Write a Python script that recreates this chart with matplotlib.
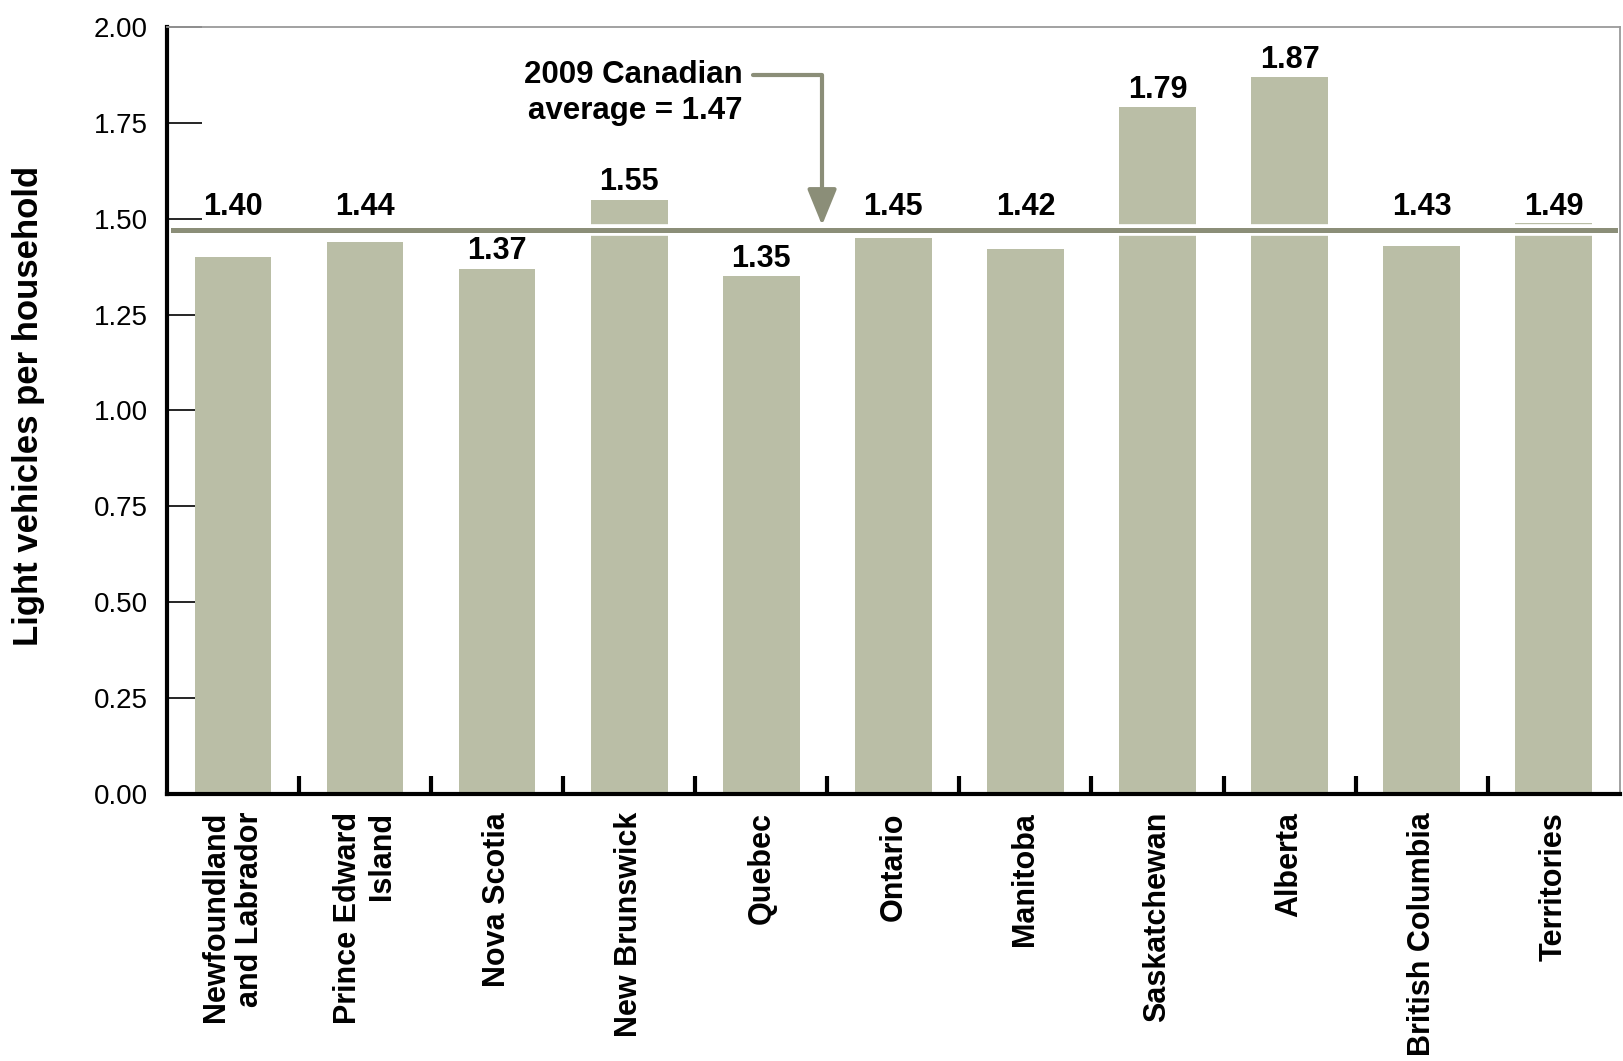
import numpy as np
import matplotlib.pyplot as plt

provinces = ["Newfoundland\nand Labrador", "Prince Edward\nIsland", "Nova Scotia",
             "New Brunswick", "Quebec", "Ontario", "Manitoba", "Saskatchewan",
             "Alberta", "British Columbia", "Territories"]
vehicles = [1.40, 1.44, 1.37, 1.55, 1.35, 1.45, 1.42, 1.79, 1.87, 1.43, 1.49]
canada_avg = 1.47
yticks = [0.00, 0.25, 0.50, 0.75, 1.00, 1.25, 1.50, 1.75, 2.00]

bar_color = "#babea6"
line_color = "#8b8e78"

plt.rcParams['font.family'] = ['Liberation Sans', 'DejaVu Sans']

fig = plt.figure(figsize=(16.23, 10.61), dpi=100)
ax = fig.add_axes([0.1029, 0.2517, 0.8951, 0.7229])

x = np.arange(len(vehicles))
ax.bar(x, vehicles, width=0.58, color=bar_color, zorder=1)
ax.set_axisbelow(True)

# average line with a white halo so it cuts through the bars
ax.axhline(canada_avg, xmin=0.004, xmax=0.997, color="white", lw=8.4, zorder=3)
ax.axhline(canada_avg, xmin=0.004, xmax=0.997, color=line_color, lw=3.6, zorder=4)

# value labels; those close to the average line sit above it
for xi, v in zip(x, vehicles):
    if canada_avg - 0.09 < v < canada_avg + 0.04:
        ly = canada_avg + 0.06
    else:
        ly = v + 0.045
    ax.text(xi, ly, f"{v:.2f}", ha="center", va="center", fontsize=22,
            fontweight="bold", zorder=5)

# callout for the national average
ax.text(3.86, 1.875, "2009 Canadian", ha="right", va="center", fontsize=22.5,
        fontweight="bold")
ax.text(3.86, 1.78, f"average = {canada_avg:.2f}", ha="right", va="center",
        fontsize=22.5, fontweight="bold")
ax.annotate("", xy=(4.46, canada_avg + 0.013), xytext=(3.94, 1.875),
            arrowprops=dict(arrowstyle="-|>,head_length=1.1,head_width=0.45",
                            mutation_scale=20, color=line_color, lw=3,
                            shrinkA=0, shrinkB=0,
                            connectionstyle="angle,angleA=0,angleB=90,rad=0"),
            zorder=5)

ax.set_xlim(-0.5, len(vehicles) - 0.5)
ax.set_ylim(0, 2.0)

ax.set_yticks(yticks, [f"{t:.2f}" for t in yticks])
ax.tick_params(axis="y", direction="in", length=25, width=1.2, pad=14,
               labelsize=20, color="black")

ax.set_xticks(x, provinces, rotation=90, ha="center", va="top",
              multialignment="right", fontweight="bold", fontsize=22)
ax.set_xticks(np.arange(len(vehicles) - 1) + 0.5, minor=True)
ax.tick_params(axis="x", which="major", length=0, pad=13)
ax.tick_params(axis="x", which="minor", direction="in", length=13, width=3,
               color="black")

for side in ["left", "bottom"]:
    ax.spines[side].set_linewidth(3)
    ax.spines[side].set_color("black")
for side in ["top", "right"]:
    ax.spines[side].set_linewidth(1.3)
    ax.spines[side].set_color("#9a9a9a")
for sp in ax.spines.values():
    sp.set_zorder(6)

fig.text(29 / 1623, 1 - 406 / 1061, "Light vehicles per household", rotation=90,
         ha="center", va="center", fontsize=25, fontweight="bold")

fig.savefig("out.png", dpi=100)
